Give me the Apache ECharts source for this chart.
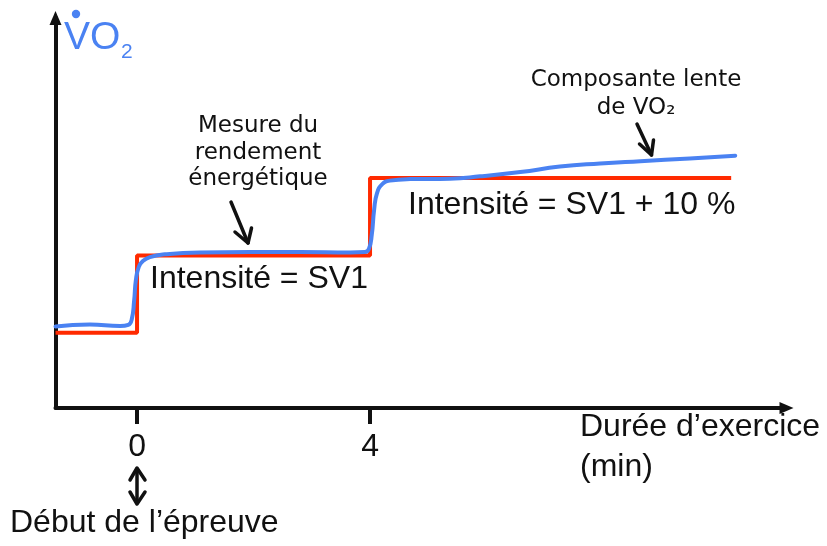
<!DOCTYPE html>
<html>
<head>
<meta charset="utf-8">
<script src="https://cdn.jsdelivr.net/npm/echarts@6/dist/echarts.min.js"></script>
<style>
  html, body { margin: 0; padding: 0; background: #fff; }
  #chart { width: 827px; height: 546px; }
</style>
</head>
<body>
<div id="chart"></div>
<script>
// Exercise duration (min) and measured VO2 (arbitrary units)
const vo2Time = [-1.4, -0.81, -0.29, -0.15, -0.09, -0.05, -0.02, 0.03, 0.10, 0.22, 0.48, 1.08, 1.94, 2.80, 3.66, 3.91,
                 3.98, 4.03, 4.07, 4.12, 4.21, 4.34, 4.69, 5.37, 5.89, 6.58, 7.26, 7.95, 8.64, 9.49, 10.27];
const vo2Values = [20.9, 21.4, 21.0, 21.3, 22.8, 27.5, 32.8, 36.2, 37.7, 38.7, 39.4, 39.9, 40.0, 40.0, 39.9, 40.0,
                   40.8, 44.4, 50.8, 55.1, 57.4, 58.3, 58.7, 58.8, 59.4, 60.5, 61.9, 62.7, 63.3, 64.0, 64.7];

// Imposed intensity steps (start of each level, then end of protocol)
const loadTime = [-1.4, 0, 4, 10.2];
const loadLevel = [19.3, 39.1, 59.0, 59.0];

// Labelled ticks on the time axis
const timeTicks = [0, 4];

const BLUE = '#4a82f2';
const RED = '#ff2a00';
const INK = '#111';
const SANS = 'Liberation Sans, Arial, Helvetica, sans-serif';
const HAND = '"Comic Sans MS", "DejaVu Sans", sans-serif';

const pair = (xs, ys) => xs.map((x, i) => [x, ys[i]]);

const chart = echarts.init(document.getElementById('chart'), null, { renderer: 'canvas' });

function arrowShape(points, w) {
  return { type: 'polyline', shape: { points: points }, style: { stroke: INK, lineWidth: w || 3.5, fill: null, lineCap: 'round', lineJoin: 'round' }, z: 20 };
}

chart.setOption({
  animation: false,
  backgroundColor: '#fff',
  grid: { left: 55.5, right: 40.5, top: 18, bottom: 138, containLabel: false },
  xAxis: {
    type: 'value',
    min: -1.4,
    max: 11.15,
    splitLine: { show: false },
    axisLine: {
      show: true,
      onZero: false,
      symbol: ['none', 'triangle'],
      symbolSize: [12, 14],
      lineStyle: { color: INK, width: 4 }
    },
    axisTick: {
      show: true,
      customValues: timeTicks,
      length: 16,
      lineStyle: { color: INK, width: 4 }
    },
    axisLabel: {
      show: true,
      customValues: timeTicks,
      margin: 23,
      fontSize: 32,
      fontFamily: SANS,
      color: INK
    }
  },
  yAxis: {
    type: 'value',
    min: 0,
    max: 100,
    splitLine: { show: false },
    axisLine: {
      show: true,
      onZero: false,
      symbol: ['none', 'triangle'],
      symbolSize: [12, 14],
      lineStyle: { color: INK, width: 4 }
    },
    axisTick: { show: false },
    axisLabel: { show: false }
  },
  series: [
    {
      name: 'Intensité',
      type: 'line',
      step: 'end',
      data: pair(loadTime, loadLevel),
      symbol: 'none',
      lineStyle: { color: RED, width: 4 },
      z: 2
    },
    {
      name: 'VO2',
      type: 'line',
      data: pair(vo2Time, vo2Values),
      smooth: 0.5,
      symbol: 'none',
      lineStyle: { color: BLUE, width: 4, cap: 'round', join: 'round' },
      z: 3
    }
  ],
  graphic: [
    // y-axis title: V-dot O2
    { type: 'circle', shape: { cx: 76, cy: 14, r: 4.2 }, style: { fill: BLUE }, z: 20 },
    { type: 'text', left: 64, top: 19, style: { text: 'VO', font: '39px ' + SANS, fill: BLUE }, z: 20 },
    { type: 'text', left: 121, top: 42, style: { text: '2', font: '21px ' + SANS, fill: BLUE }, z: 20 },

    // step labels
    { type: 'text', x: 150, y: 279, style: { text: 'Intensité = SV1', font: '32px ' + SANS, fill: INK, verticalAlign: 'middle' }, z: 20 },
    { type: 'text', x: 408, y: 205, style: { text: 'Intensité = SV1 + 10 %', font: '32px ' + SANS, fill: INK, verticalAlign: 'middle' }, z: 20 },

    // time axis title
    { type: 'text', x: 580, y: 427, style: { text: 'Durée d\u2019exercice', font: '32px ' + SANS, fill: INK, verticalAlign: 'middle' }, z: 20 },
    { type: 'text', x: 580, y: 467, style: { text: '(min)', font: '32px ' + SANS, fill: INK, verticalAlign: 'middle' }, z: 20 },

    // start-of-test marker
    arrowShape([[130, 480], [137, 468], [145, 480]]),
    { type: 'line', shape: { x1: 137, y1: 469, x2: 137, y2: 503 }, style: { stroke: INK, lineWidth: 3.5 }, z: 20 },
    arrowShape([[130, 492], [137, 504], [145, 492]]),
    { type: 'text', x: 10, y: 523, style: { text: 'Début de l\u2019épreuve', font: '32px ' + SANS, fill: INK, verticalAlign: 'middle' }, z: 20 },

    // annotation: energy efficiency measurement
    { type: 'text', x: 258, y: 126, style: { text: 'Mesure du', font: '23px ' + HAND, fill: INK, align: 'center', verticalAlign: 'middle' }, z: 20 },
    { type: 'text', x: 258, y: 153, style: { text: 'rendement', font: '23px ' + HAND, fill: INK, align: 'center', verticalAlign: 'middle' }, z: 20 },
    { type: 'text', x: 258, y: 179, style: { text: 'énergétique', font: '23px ' + HAND, fill: INK, align: 'center', verticalAlign: 'middle' }, z: 20 },
    arrowShape([[231, 202], [248, 243]]),
    arrowShape([[235, 232], [248, 243], [251.5, 228]]),

    // annotation: slow component
    { type: 'text', x: 636, y: 80, style: { text: 'Composante lente', font: '23px ' + HAND, fill: INK, align: 'center', verticalAlign: 'middle' }, z: 20 },
    { type: 'text', x: 636, y: 108, style: { text: 'de VO\u2082', font: '23px ' + HAND, fill: INK, align: 'center', verticalAlign: 'middle' }, z: 20 },
    arrowShape([[637, 124], [651.5, 155]]),
    arrowShape([[639.5, 144], [651.5, 155], [653.5, 140]])
  ]
});
</script>
</body>
</html>
